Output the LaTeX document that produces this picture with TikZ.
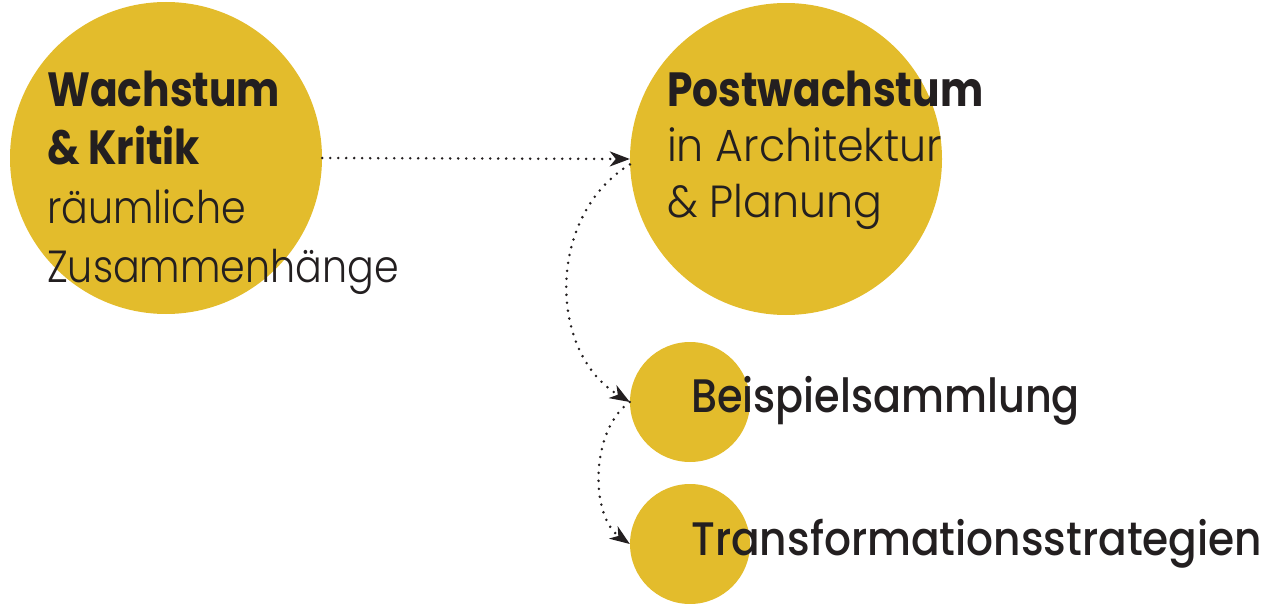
\documentclass[tikz,border=0pt]{standalone}
\usepackage{fontspec}
\usepackage{graphicx}
\setmainfont{Poppins}
\newfontfamily\lightfont{Poppins Light}
\newfontfamily\medfont{Poppins Medium}
\usetikzlibrary{arrows.meta}
\definecolor{gold}{RGB}{227,188,44}
\definecolor{ink}{RGB}{35,31,32}
\newcommand\narrowtext[2]{\scalebox{#1}[1]{#2}}
\tikzset{
  bubble/.style={circle, fill=gold, draw=none, inner sep=0pt},
  boldtxt/.style={anchor=base west, inner sep=0pt, text=ink, font=\bfseries\fontsize{48}{48}\selectfont},
  lighttxt/.style={anchor=base west, inner sep=0pt, text=ink, font=\lightfont\fontsize{45}{45}\selectfont},
  medtxt/.style={anchor=base west, inner sep=0pt, text=ink, font=\medfont\fontsize{47}{47}\selectfont},
  flow/.style={draw=ink, line width=2.8pt, line cap=round, dash pattern=on 0pt off 8pt,
    -{Stealth[length=20pt, width=15pt, inset=6pt]}}
}
\begin{document}
\begin{tikzpicture}[x=1pt, y=-1pt]
\useasboundingbox (0,0) rectangle (1268,604);
\node[bubble, minimum size=312pt] (c1) at (166,158) {};
\node[bubble, minimum size=312pt] (c2) at (786,159) {};
\node[bubble, minimum size=120pt] (c3) at (690,402) {};
\node[bubble, minimum size=120pt] (c4) at (690,544) {};
\node[boldtxt] (t1) at (47,107) {\narrowtext{0.85}{Wachstum}};
\node[boldtxt] (t2) at (47,165) {\narrowtext{0.85}{\& Kritik}};
\node[lighttxt] (t3) at (47,223) {\narrowtext{0.88}{räumliche}};
\node[lighttxt] (t4) at (47,282) {\narrowtext{0.88}{Zusammenhänge}};
\node[boldtxt] (t5) at (667,107) {\narrowtext{0.85}{Postwachstum}};
\node[lighttxt] (t6) at (667,162) {\narrowtext{0.95}{in Architektur}};
\node[lighttxt] (t7) at (667,218) {\narrowtext{0.95}{\& Planung}};
\node[medtxt] (t8) at (691,412) {\narrowtext{0.88}{Beispielsammlung}};
\node[medtxt] (t9) at (691,555) {\narrowtext{0.90}{Transformationsstrategien}};
\draw[flow] (c1.east) -- (c2.west);
\draw[flow] (c2.182) .. controls (547,215) and (547,352) .. (c3.west);
\draw[flow] (c3.west) .. controls (590,430) and (590,516) .. (c4.west);
\end{tikzpicture}
\end{document}
